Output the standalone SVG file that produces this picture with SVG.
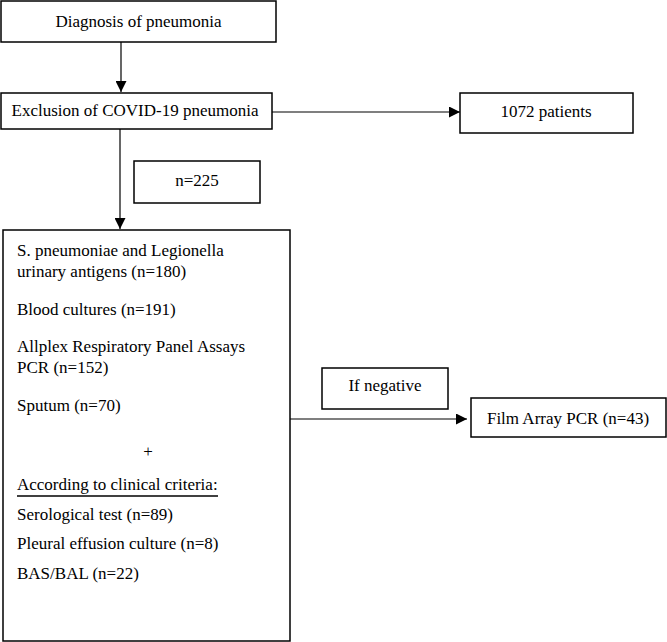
<svg xmlns="http://www.w3.org/2000/svg" width="667" height="642" viewBox="0 0 667 642">
<defs>
<marker id="ah" markerWidth="11" markerHeight="11" refX="11" refY="5.5" orient="auto" markerUnits="userSpaceOnUse">
<path d="M0,0 L11,5.5 L0,11 Z" fill="#000"/>
</marker>
<style>
.box{fill:#fff;stroke:#000;stroke-width:1.5}
.t{font-family:"Liberation Serif","Times New Roman",serif;font-size:17px;fill:#000}
.c{text-anchor:middle}
.ln{stroke:#000;stroke-width:1.2;fill:none}
</style>
</defs>
<rect width="667" height="642" fill="#fff"/>
<g id="connectors">
<line class="ln" x1="121" y1="42" x2="121" y2="92" marker-end="url(#ah)"/>
<line class="ln" x1="272" y1="112" x2="460" y2="112" marker-end="url(#ah)"/>
<line class="ln" x1="120" y1="129" x2="120" y2="229" marker-end="url(#ah)"/>
<line class="ln" x1="290" y1="419" x2="467" y2="419" marker-end="url(#ah)"/>
</g>
<g id="diagnosis">
<rect class="box" x="1" y="1" width="275" height="41"/>
<text class="t c" x="138.5" y="27">Diagnosis of pneumonia</text>
</g>
<g id="exclusion">
<rect class="box" x="1" y="93" width="271" height="36"/>
<text class="t c" x="135" y="116">Exclusion of COVID-19 pneumonia</text>
</g>
<g id="patients">
<rect class="box" x="460" y="93" width="173" height="40"/>
<text class="t c" x="546" y="117">1072 patients</text>
</g>
<g id="n225">
<rect class="box" x="134" y="161" width="126" height="42"/>
<text class="t c" x="197" y="186">n=225</text>
</g>
<g id="tests">
<rect class="box" x="3" y="230" width="287" height="411"/>
<text class="t" x="17" y="256">S. pneumoniae and Legionella</text>
<text class="t" x="17" y="277">urinary antigens (n=180)</text>
<text class="t" x="17" y="315">Blood cultures (n=191)</text>
<text class="t" x="17" y="352">Allplex Respiratory Panel Assays</text>
<text class="t" x="17" y="373">PCR (n=152)</text>
<text class="t" x="17" y="411">Sputum (n=70)</text>
<text class="t c" x="148" y="457">+</text>
<text class="t" x="17" y="490">According to clinical criteria:</text>
<line x1="17" y1="496" x2="218" y2="496" stroke="#000" stroke-width="1.3"/>
<text class="t" x="17" y="520">Serological test (n=89)</text>
<text class="t" x="17" y="549">Pleural effusion culture (n=8)</text>
<text class="t" x="17" y="579">BAS/BAL (n=22)</text>
</g>
<g id="ifnegative">
<rect class="box" x="322" y="368" width="126" height="41"/>
<text class="t c" x="385" y="391">If negative</text>
</g>
<g id="filmarray">
<rect class="box" x="471" y="398" width="195" height="39"/>
<text class="t c" x="568" y="424">Film Array PCR (n=43)</text>
</g>
</svg>
